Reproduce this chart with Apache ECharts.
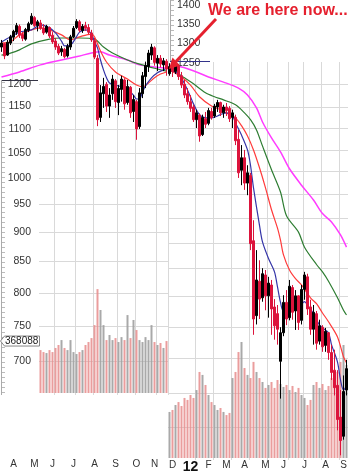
<!DOCTYPE html>
<html><head><meta charset="utf-8">
<script src="https://cdn.jsdelivr.net/npm/echarts@6/dist/echarts.min.js"></script>
<style>html,body{margin:0;padding:0;background:#fff}#c{width:348px;height:472px}</style>
</head><body><div id="c"></div>
<script>
// ---------- tick labels ----------
const leftMonths = ['A','M','J','J','A','S','O','N'];
const leftMonthIdx = [4,11,17,24,31,38,45,51];
const rightMonths = ['D','12','F','M','A','M','J','J','A','S'];
const rightMonthIdx = [1,7,13,19,25,32,38,45,52,58];
const leftGridIdx = [4,11,18,25,31,39,45,52];
const rightGridIdx = [9,15,21,27,33,40,45,51,57];
const leftPriceLabels = [1200,1150,1100,1050,1000,950,900,850,800,750,700];
const topPriceLabels = [1400,1350,1300,1250];
const upperGridLevels = [1350,1300,1250];
const rightGridLevels = [1200,1148,1102,1056,1014,969,925,881,839,795,748,704,658,616];
const lastVolume = 368088;

// ---------- left chart (2011) ----------
const leftOpen  = [1290,1298,1270,1300,1315,1328,1343,1322,1310,1333,1350,1366,1345,1352,1338,1328,1340,1320,1305,1292,1278,1284,1268,1290,1316,1340,1355,1332,1345,1340,1326,1306,1262,1125,1178,1200,1150,1178,1208,1158,1188,1210,1158,1193,1138,1160,1105,1178,1218,1242,1270,1288,1250,1262,1246,1255];
const leftClose = [1300,1268,1302,1316,1330,1345,1320,1312,1335,1350,1370,1345,1355,1338,1326,1343,1318,1303,1290,1275,1286,1266,1292,1316,1338,1356,1333,1343,1338,1328,1308,1265,1120,1180,1195,1150,1175,1212,1160,1190,1212,1155,1195,1135,1165,1100,1180,1220,1245,1275,1290,1252,1262,1248,1256,1236];
const leftLow   = [1278,1260,1268,1295,1305,1321,1313,1305,1306,1328,1347,1341,1330,1334,1321,1324,1313,1298,1283,1270,1268,1262,1264,1283,1313,1336,1328,1326,1331,1323,1303,1260,1106,1115,1146,1137,1124,1164,1146,1130,1160,1142,1153,1124,1115,1077,1100,1168,1191,1229,1258,1244,1231,1240,1231,1220];
const leftHigh  = [1308,1300,1308,1321,1334,1352,1348,1328,1339,1355,1378,1370,1360,1360,1349,1347,1343,1328,1313,1298,1293,1288,1298,1321,1344,1362,1360,1349,1355,1349,1334,1313,1270,1198,1215,1205,1191,1222,1212,1198,1220,1214,1210,1196,1175,1164,1191,1229,1254,1283,1298,1292,1270,1270,1263,1260];
const leftVolStart = 13;
const leftVolume = [304,290,283,304,290,319,340,375,319,304,375,290,276,290,304,340,361,389,481,736,588,481,375,411,375,389,361,396,375,552,389,517,446,375,361,396,375,481,361,340,354,319,368];
const leftMA10 = [[0,1303],[3,1316],[6,1328],[10,1334],[13,1347],[16,1339],[18,1326],[20,1305],[21,1293],[23,1295],[25,1316],[26,1328],[28,1334],[30,1323],[31,1303],[32,1288],[33,1258],[34,1234],[35,1215],[36,1203],[38,1198],[40,1194],[42,1187],[44,1175],[45,1166],[46,1166],[47,1182],[48,1196],[50,1215],[52,1227],[54,1234],[55,1238]];
const leftMA20 = [[0,1300],[3,1303],[6,1321],[10,1334],[13,1339],[16,1334],[20,1321],[23,1308],[26,1316],[30,1323],[31,1316],[33,1280],[35,1253],[38,1229],[42,1212],[45,1198],[47,1194],[49,1203],[51,1215],[53,1224],[55,1229]];
const leftMA50 = [[0,1270],[3,1275],[6,1283],[10,1298],[16,1310],[20,1313],[26,1313],[31,1310],[34,1290],[37,1275],[42,1258],[46,1248],[51,1238],[55,1231]];
const leftMA200 = [[0,1217],[6,1229],[13,1246],[20,1258],[26,1268],[30,1275],[33,1278],[36,1270],[42,1258],[46,1246],[51,1241],[55,1238]];

// ---------- right chart ----------
const rightOpen  = [1225,1240,1230,1243,1220,1200,1178,1160,1148,1120,1130,1088,1122,1112,1138,1128,1148,1158,1135,1148,1145,1125,1125,1078,1015,1040,990,1005,885,765,818,792,828,795,812,778,768,700,740,785,762,808,772,795,758,805,825,778,745,768,728,748,722,740,712,688,668,628,605,662];
const rightClose = [1242,1230,1245,1218,1198,1175,1160,1145,1120,1135,1085,1125,1110,1140,1125,1150,1158,1135,1148,1140,1122,1135,1075,1010,1040,990,1010,880,760,820,790,830,795,815,775,750,745,740,785,760,810,770,795,755,805,828,775,745,770,725,750,720,742,712,685,665,625,600,660,690];
const rightLow   = [1220,1217,1224,1210,1191,1168,1153,1137,1115,1102,1073,1085,1102,1108,1120,1124,1137,1128,1124,1128,1115,1102,1066,1000,986,977,967,869,737,752,760,786,773,762,737,730,723,651,735,751,758,759,744,744,752,789,766,737,723,716,723,713,713,702,675,655,612,583,601,655];
const rightHigh  = [1250,1248,1250,1248,1229,1210,1191,1175,1153,1142,1134,1131,1137,1146,1146,1155,1164,1160,1153,1157,1150,1142,1131,1098,1066,1056,1025,1010,921,869,852,839,836,825,820,790,781,748,796,804,820,812,804,796,812,833,830,789,781,772,759,751,747,741,723,716,688,662,681,702];
const rightVolume = [326,340,375,396,368,425,411,446,425,481,609,588,517,446,396,375,340,354,326,304,319,566,609,750,821,637,588,566,680,609,566,538,496,517,538,496,552,524,503,517,481,510,467,496,446,425,375,411,517,538,496,524,481,510,566,588,609,680,800,658];
const rightMA10 = [[0,1234],[3,1224],[5,1201],[7,1171],[8,1155],[10,1131],[12,1124],[14,1124],[17,1131],[19,1135],[21,1128],[22,1113],[24,1087],[26,1056],[27,1025],[28,981],[30,912],[31,883],[33,855],[35,833],[36,809],[37,785],[38,772],[40,773],[43,777],[45,786],[46,781],[48,768],[50,751],[51,747],[53,740],[54,723],[56,699],[57,675],[58,662],[59,667]];
const rightMA20 = [[0,1234],[4,1217],[7,1198],[10,1171],[14,1150],[17,1142],[20,1131],[22,1124],[24,1107],[26,1085],[28,1056],[30,1020],[32,981],[34,940],[36,907],[37,886],[38,861],[40,836],[42,822],[44,812],[47,792],[49,783],[51,769],[53,756],[56,734],[58,706],[59,698]];
const rightMA50 = [[0,1231],[2,1229],[5,1215],[8,1201],[12,1180],[15,1171],[18,1164],[22,1153],[25,1135],[27,1120],[29,1098],[31,1064],[34,1016],[37,973],[39,929],[43,900],[45,874],[49,845],[51,833],[53,818],[56,792],[58,773],[59,766]];
const rightMA200 = [[0,1243],[4,1241],[9,1229],[13,1217],[18,1205],[23,1191],[26,1175],[29,1146],[31,1115],[34,1081],[37,1052],[40,1018],[44,986],[48,958],[51,933],[54,918],[57,895],[59,874]];

// ---------- build ----------
const FONT = '"Liberation Sans", Arial, sans-serif';
const UP = '#000000', DOWN = '#dc143c';
const VOL_UP = 'rgba(160,160,160,0.9)', VOL_DOWN = 'rgba(230,140,140,0.85)';
const GRID = '#d9d9d9';
const leftCats = leftOpen.map((_, i) => 'L' + i);
const rightCats = rightOpen.map((_, i) => 'R' + i);
const leftLabelMap = {}; leftMonthIdx.forEach((k, j) => leftLabelMap[k] = leftMonths[j]);
const rightLabelMap = {}; rightMonthIdx.forEach((k, j) => rightLabelMap[k] = rightMonths[j]);
const leftCandles = leftOpen.map((o, i) => [o, leftClose[i], leftLow[i], leftHigh[i]]);
const rightCandles = rightOpen.map((o, i) => [o, rightClose[i], rightLow[i], rightHigh[i]]);
const leftVolData = leftOpen.map((_, i) => i < leftVolStart ? '-' : leftVolume[i - leftVolStart]);

function maSeries(data, color, w, xi, yi) {
  return {type:'line', data, xAxisIndex:xi, yAxisIndex:yi, showSymbol:false, symbol:'none', smooth:0.3,
    lineStyle:{color, width:w}, z:2, silent:true};
}
function candle(data, xi, yi) {
  return {type:'candlestick', data, xAxisIndex:xi, yAxisIndex:yi, barWidth:2, z:3, silent:true,
    itemStyle:{color:UP, color0:DOWN, borderColor:UP, borderColor0:DOWN, borderWidth:1}};
}
const catAxis = (gi, data, labelMap, gridIdx, margin, show) => ({
  gridIndex:gi, type:'category', data, boundaryGap:true,
  axisLine:{show:false}, axisTick:{show:false},
  axisLabel:{show, interval:0, margin, fontSize:10, color:'#333', fontFamily:FONT,
    formatter:(v, i) => { const t = labelMap[i] || ''; return t === '12' ? '{y|12}' : t; },
    rich:{y:{fontSize:14, fontWeight:'bold', color:'#111', fontFamily:FONT}}},
  splitLine:{show: !!gridIdx, interval:(i) => gridIdx ? gridIdx.includes(i) : false, lineStyle:{color:GRID, width:1}}
});

const option = {
  animation:false,
  backgroundColor:'#fff',
  grid:[
    {left:0, top:0, width:168, height:395, outerBoundsMode:'none', containLabel:false},
    {left:168, top:62, width:180, height:398, outerBoundsMode:'none', containLabel:false},
    {left:0, top:285, width:168, height:108, outerBoundsMode:'none', containLabel:false},
    {left:168, top:330, width:180, height:128, outerBoundsMode:'none', containLabel:false}
  ],
  xAxis:[
    catAxis(0, leftCats, leftLabelMap, leftGridIdx, 64, true),
    catAxis(1, rightCats, rightLabelMap, rightGridIdx, 0, true),
    catAxis(2, leftCats, {}, null, 0, false),
    catAxis(3, rightCats, {}, null, 0, false)
  ],
  yAxis:[
    {gridIndex:0, type:'log', logBase:10, min:655.5, max:1413.7, show:false, splitLine:{show:false}},
    {gridIndex:1, type:'log', logBase:10, min:577.7, max:1253.0, show:false, splitLine:{show:false}},
    {gridIndex:2, type:'value', min:0, max:765, show:false, splitLine:{show:false}},
    {gridIndex:3, type:'value', min:0, max:906, show:false, splitLine:{show:false}}
  ],
  series:[
    {type:'bar', data:leftVolData, xAxisIndex:2, yAxisIndex:2, barWidth:2, z:1, silent:true,
      itemStyle:{color:(p) => leftClose[p.dataIndex] >= leftOpen[p.dataIndex] ? VOL_UP : VOL_DOWN}},
    {type:'bar', data:rightVolume, xAxisIndex:3, yAxisIndex:3, barWidth:2, z:1, silent:true,
      itemStyle:{color:(p) => rightClose[p.dataIndex] >= rightOpen[p.dataIndex] ? VOL_UP : VOL_DOWN}},
    maSeries(leftMA200, '#ff3cff', 1.5, 0, 0),
    maSeries(leftMA50, '#2e7d32', 1.2, 0, 0),
    maSeries(leftMA20, '#ff3b3b', 1.2, 0, 0),
    maSeries(leftMA10, '#3535a8', 1.2, 0, 0),
    candle(leftCandles, 0, 0),
    maSeries(rightMA200, '#ff3cff', 1.5, 1, 1),
    maSeries(rightMA50, '#2e7d32', 1.2, 1, 1),
    maSeries(rightMA20, '#ff3b3b', 1.2, 1, 1),
    maSeries(rightMA10, '#3535a8', 1.2, 1, 1),
    candle(rightCandles, 1, 1)
  ]
};

const chart = echarts.init(document.getElementById('c'), null, {renderer:'canvas'});
chart.setOption(option);

const pyL = v => chart.convertToPixel({yAxisIndex:0}, v);
const pyR = v => chart.convertToPixel({yAxisIndex:1}, v);
const pyV = v => chart.convertToPixel({yAxisIndex:2}, v);
const crisp = y => Math.round(y) + 0.5;
const gfx = [];
rightGridLevels.forEach(v => { const y = crisp(pyR(v)); gfx.push({type:'line', z:0, silent:true, shape:{x1:168,y1:y,x2:348,y2:y}, style:{stroke:GRID, lineWidth:1}}); });
upperGridLevels.forEach(v => { const y = crisp(pyL(v)); gfx.push({type:'line', z:0, silent:true, shape:{x1:0,y1:y,x2:168,y2:y}, style:{stroke:GRID, lineWidth:1}}); });
leftPriceLabels.forEach(v => { const y = crisp(pyL(v)); gfx.push({type:'line', z:0, silent:true, shape:{x1:39,y1:y,x2:168,y2:y}, style:{stroke:GRID, lineWidth:1}}); });
// label column
gfx.push({type:'rect', z:1, silent:true, shape:{x:0,y:80,width:39,height:315}, style:{fill:'#fff'}});
gfx.push({type:'line', z:5, silent:true, shape:{x1:1.5,y1:80,x2:1.5,y2:395}, style:{stroke:'#aaa', lineWidth:1}});
gfx.push({type:'line', z:5, silent:true, shape:{x1:3.5,y1:82,x2:3.5,y2:395}, style:{stroke:'#bbb', lineWidth:3, lineDash:[1,4]}});
leftPriceLabels.forEach(v => gfx.push({type:'text', z:6, silent:true, x:31, y:pyL(v), style:{text:String(v), fill:'#333', font:'10.5px ' + FONT, align:'right', verticalAlign:'middle'}}));
gfx.push({type:'line', z:7, silent:true, shape:{x1:2,y1:80.5,x2:38,y2:80.5}, style:{stroke:'#333344', lineWidth:1}});
// top-right label box
gfx.push({type:'line', z:5, silent:true, shape:{x1:170.5,y1:0,x2:170.5,y2:61}, style:{stroke:'#aaa', lineWidth:1}});
gfx.push({type:'line', z:5, silent:true, shape:{x1:172.5,y1:0,x2:172.5,y2:61}, style:{stroke:'#bbb', lineWidth:3, lineDash:[1,4]}});
topPriceLabels.forEach(v => gfx.push({type:'text', z:6, silent:true, x:177, y:pyL(v), style:{text:String(v), fill:'#333', font:'10.5px ' + FONT, align:'left', verticalAlign:'middle'}}));
gfx.push({type:'line', z:7, silent:true, shape:{x1:170,y1:61.5,x2:210,y2:61.5}, style:{stroke:'#33338a', lineWidth:1}});
// volume tag
const ty = pyV(lastVolume / 1000);
gfx.push({type:'polygon', z:6, silent:true, shape:{points:[[0.5,ty],[4.5,ty-5],[39.5,ty-5],[39.5,ty+5],[4.5,ty+5]]}, style:{fill:'#fff', stroke:'#888', lineWidth:1}});
gfx.push({type:'text', z:7, silent:true, x:5, y:ty, style:{text:String(lastVolume), fill:'#222', font:'10px ' + FONT, align:'left', verticalAlign:'middle'}});
// annotation
gfx.push({type:'text', z:10, silent:true, x:208, y:11, style:{text:'We are here now...', fill:'#e5202e', font:'bold 16px ' + FONT, align:'left', verticalAlign:'middle'}});
gfx.push({type:'line', z:10, silent:true, shape:{x1:216,y1:19,x2:176,y2:61.5}, style:{stroke:'#e5202e', lineWidth:3}});
gfx.push({type:'polygon', z:10, silent:true, shape:{points:[[169,69],[180,65.5],[172.5,57.5]]}, style:{fill:'#e5202e'}});

chart.setOption({graphic:{elements:gfx}});
</script>
</body></html>
